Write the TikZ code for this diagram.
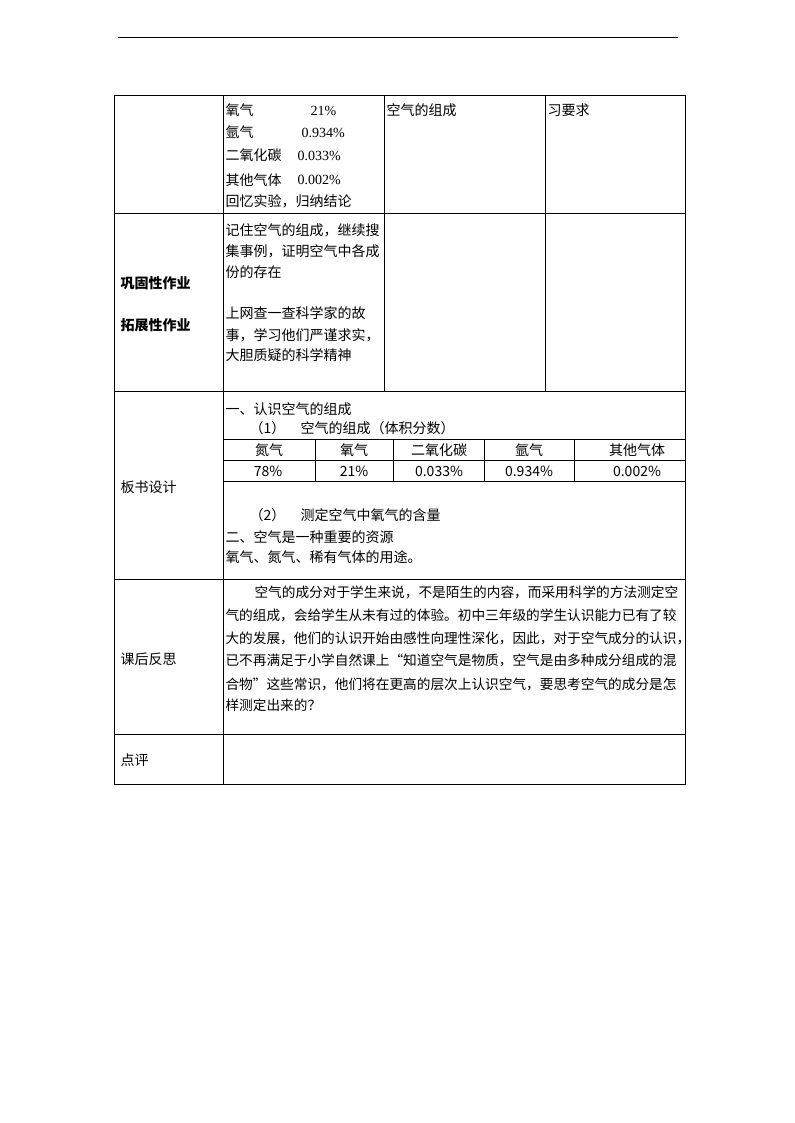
\documentclass[tikz,border=0pt]{standalone}
\usepackage{fontspec}
\setmainfont{Noto Sans CJK SC}
\newfontfamily\tnr{Liberation Serif}
\newcommand\wu{\fontsize{10.5}{12}\selectfont}
\newcommand\wux{\fontsize{10.25}{12}\selectfont}

\begin{document}
\begin{tikzpicture}[x=.75pt,y=-.75pt,line width=.75pt,
  txt/.style={anchor=west,inner sep=0pt,font=\wu},
  long/.style={anchor=west,inner sep=0pt,font=\wux},
  num/.style={anchor=west,inner sep=0pt,font=\wu\tnr},
  head/.style={anchor=west,inner sep=0pt,font=\wu\bfseries},
  mid/.style={inner sep=0pt,font=\wu}]
 \useasboundingbox (0,0) rectangle (794,1123);
 \draw (118,38) -- (678,38);
 \draw (114,96) rectangle (685,784);
 \draw (223.5,96) -- (223.5,784);
 \draw (384.5,96) -- (384.5,391) (545.5,96) -- (545.5,391);
 \draw (114,214) -- (685,214) (114,391) -- (685,391)
       (114,579) -- (685,579) (114,734) -- (685,734);
 \draw (223.5,439.5) -- (685,439.5) (223.5,460.5) -- (685,460.5)
       (223.5,481.5) -- (685,481.5);
 \draw (315.5,439.5) -- (315.5,481.5) (393,439.5) -- (393,481.5)
       (484.5,439.5) -- (484.5,481.5) (574,439.5) -- (574,481.5);
 \node[txt] (o2) at (225,110.5) {氧气};
 \node[num] (o2v) at (310,110.5) {21\%};
 \node[txt] (ar) at (225,132.5) {氩气};
 \node[num] (arv) at (301,132.5) {0.934\%};
 \node[txt] (co2) at (225,155.5) {二氧化碳};
 \node[num] (co2v) at (297,155.5) {0.033\%};
 \node[txt] (rest) at (225,180) {其他气体};
 \node[num] (restv) at (297,180) {0.002\%};
 \node[txt] (recall) at (225,201.5) {回忆实验，归纳结论};
 \node[txt] (goal) at (386,110.5) {空气的组成};
 \node[txt] (req) at (547,110.5) {习要求};
 \node[head] (gugu) at (120,283.5) {巩固性作业};
 \node[head] (tuozhan) at (120,325) {拓展性作业};
 \node[txt] (hw1) at (225,230) {记住空气的组成，继续搜};
 \node[txt] (hw2) at (225,251) {集事例，证明空气中各成};
 \node[txt] (hw3) at (225,272) {份的存在};
 \node[txt] (hw4) at (225,313.5) {上网查一查科学家的故};
 \node[txt] (hw5) at (225,335) {事，学习他们严谨求实，};
 \node[txt] (hw6) at (225,355) {大胆质疑的科学精神};
 \node[txt] (board) at (120,487.5) {板书设计};
 \node[txt] (bd1) at (225,409) {一、认识空气的组成};
 \node[txt] (bd2) at (249,428) {（1）\hspace{1.1em}空气的组成（体积分数）};
 \node[mid] (n2) at (269,450.5) {氮气};
 \node[mid] (n2v) at (268,471) {78\%};
 \node[mid] (o2t) at (354,450.5) {氧气};
 \node[mid] (o2tv) at (354,471) {21\%};
 \node[mid] (co2t) at (439,450.5) {二氧化碳};
 \node[mid] (co2tv) at (439,471) {0.033\%};
 \node[mid] (art) at (529,450.5) {氩气};
 \node[mid] (artv) at (529,471) {0.934\%};
 \node[mid] (restt) at (637,450.5) {其他气体};
 \node[mid] (resttv) at (637,471) {0.002\%};
 \node[txt] (bd3) at (249,515) {（2）\hspace{1.1em}测定空气中氧气的含量};
 \node[txt] (bd4) at (225,537) {二、空气是一种重要的资源};
 \node[txt] (bd5) at (225,557) {氧气、氮气、稀有气体的用途。};
 \node[txt] (refl) at (120,659) {课后反思};
 \node[long] (rf1) at (254,592) {空气的成分对于学生来说，不是陌生的内容，而采用科学的方法测定空};
 \node[long] (rf2) at (225,615.5) {气的组成，会给学生从未有过的体验。初中三年级的学生认识能力已有了较};
 \node[long] (rf3) at (225,638) {大的发展，他们的认识开始由感性向理性深化，因此，对于空气成分的认识，};
 \node[long] (rf4) at (225,660.5) {已不再满足于小学自然课上“知道空气是物质，空气是由多种成分组成的混};
 \node[long] (rf5) at (225,684) {合物”这些常识，他们将在更高的层次上认识空气，要思考空气的成分是怎};
 \node[long] (rf6) at (225,705.5) {样测定出来的？};
 \node[txt] (comment) at (120,760.5) {点评};
\end{tikzpicture}
\end{document}
